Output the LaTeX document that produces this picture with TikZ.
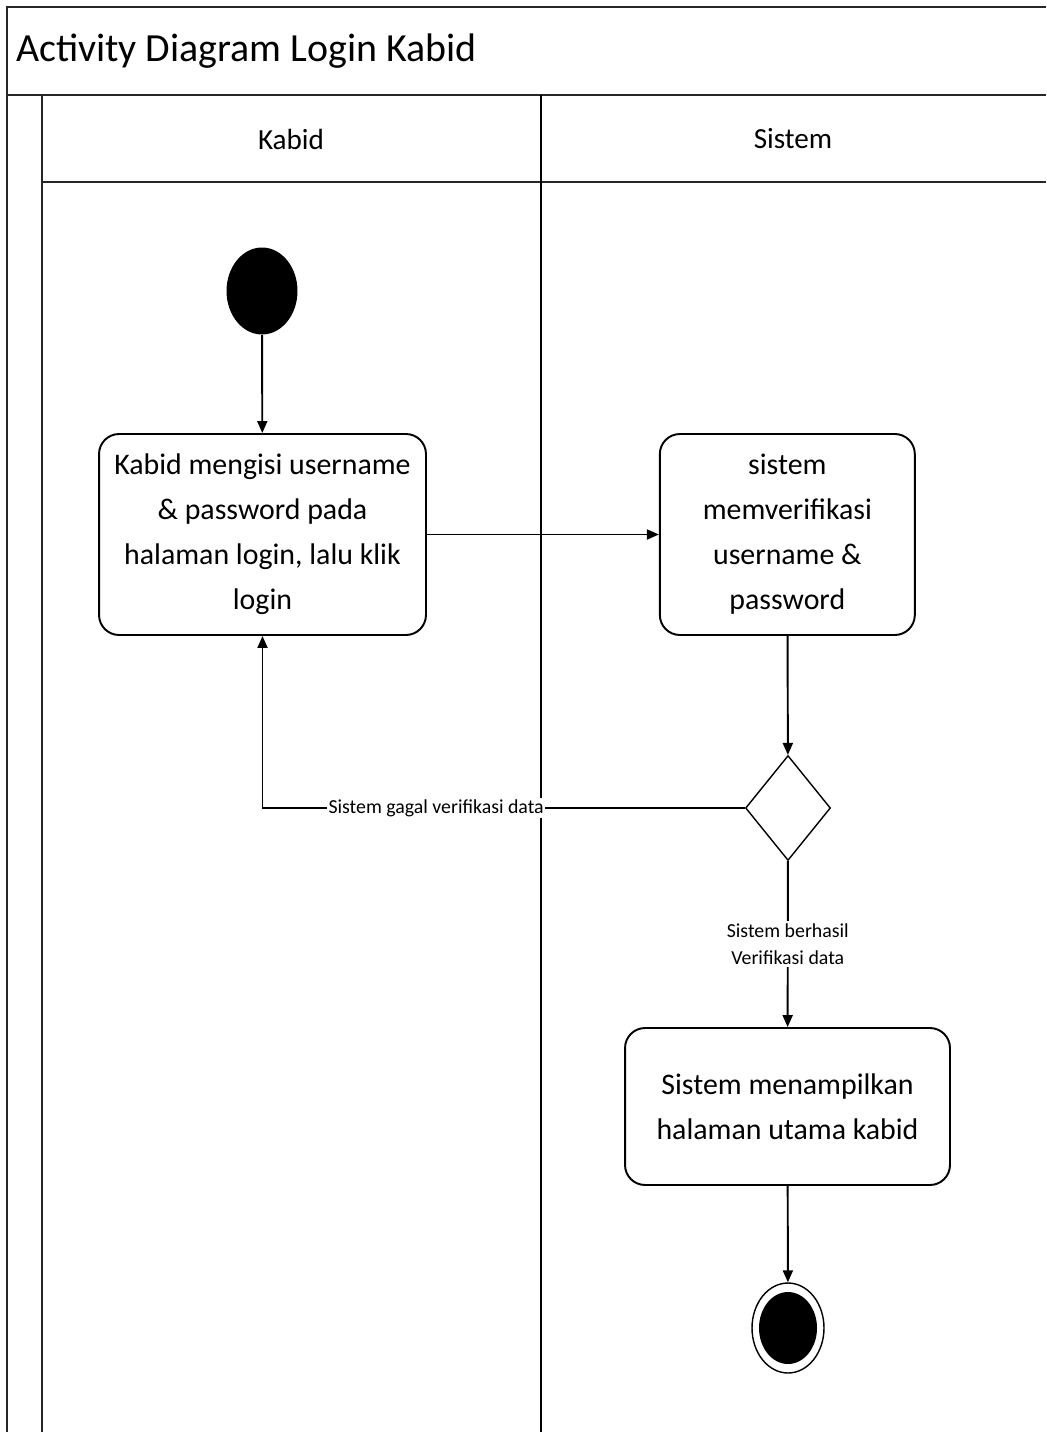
\documentclass[tikz,border=0pt]{standalone}
\usepackage{fontspec}
\setmainfont{Carlito}
\usetikzlibrary{shapes.geometric, arrows.meta, positioning}
\tikzstyle{frame_line} = [line width=1.4pt, draw=black!85]
\tikzstyle{action_node} = [rectangle, rounded corners=4mm, minimum height=4.02cm, inner sep=0pt, align=center, draw=black, line width=1.1pt, font=\fontsize{17}{25.6}\selectfont]
\tikzstyle{start_node} = [ellipse, minimum width=1.42cm, minimum height=1.74cm, inner sep=0pt, fill=black]
\tikzstyle{end_node} = [ellipse, minimum width=1.44cm, minimum height=1.8cm, inner sep=0pt, draw=black, line width=0.8pt, path picture={\fill (path picture bounding box.center) ellipse (0.58cm and 0.72cm);}]
\tikzstyle{decision_node} = [diamond, minimum width=1.7cm, minimum height=2.1cm, inner sep=0pt, draw=black, line width=0.8pt]
\tikzstyle{flow_arrow} = [line width=1.1pt, -{Triangle[length=2.4mm, width=2mm]}]
\tikzstyle{flow_label} = [font=\fontsize{11.3}{15.8}\selectfont, fill=white, inner sep=1pt, align=center]
\tikzstyle{lane_label} = [font=\fontsize{16.6}{19}\selectfont]

\begin{document}
\begin{tikzpicture}[x=0.02cm, y=-0.02cm]
\useasboundingbox (0,0) rectangle (1046,1432);

% Rahmen und Swimlanes
\draw [frame_line] (1046,7) -- (7,7) -- (7,1432);
\draw [frame_line] (7,95) -- (1046,95);
\draw [frame_line] (42,95) -- (42,1432);
\draw [frame_line] (42,182) -- (1046,182);
\draw [line width=1pt] (541,95) -- (541,1432);
\node (title) [anchor=west, font=\fontsize{22.7}{27}\selectfont] at (10,51) {Activity Diagram Login Kabid};
\node (lane_kabid) [lane_label] at (291,139) {Kabid};
\node (lane_sistem) [lane_label] at (793,139) {Sistem};

% Aktionen
\node (start) [start_node] at (262,291) {};
\node (login) [action_node, minimum width=6.54cm] at (262.5,534.5) {Kabid mengisi username\\ \& password pada\\ halaman login, lalu klik\\ login};
\node (verify) [action_node, minimum width=5.1cm, right=4.64cm of login] {sistem\\ memverifikasi\\ username \&\\ password};
\node (check) [decision_node] at (788,808) {};
\node (show) [action_node, minimum width=6.5cm, minimum height=3.14cm] at (787.5,1106.5) {Sistem menampilkan\\ halaman utama kabid};
\node (finish) [end_node] at (788,1328) {};

% Pfeile
\draw [flow_arrow] (start) -- (login);
\draw [flow_arrow] (login) -- (verify);
\draw [flow_arrow] (verify) -- (check);
\draw [flow_arrow] (check.west) -| node[flow_label, pos=0.32] {Sistem gagal verifikasi data} (login.south);
\draw [flow_arrow] (check) -- node[flow_label] {Sistem berhasil\\ Verifikasi data} (show);
\draw [flow_arrow] (show) -- (finish);
\end{tikzpicture}
\end{document}
